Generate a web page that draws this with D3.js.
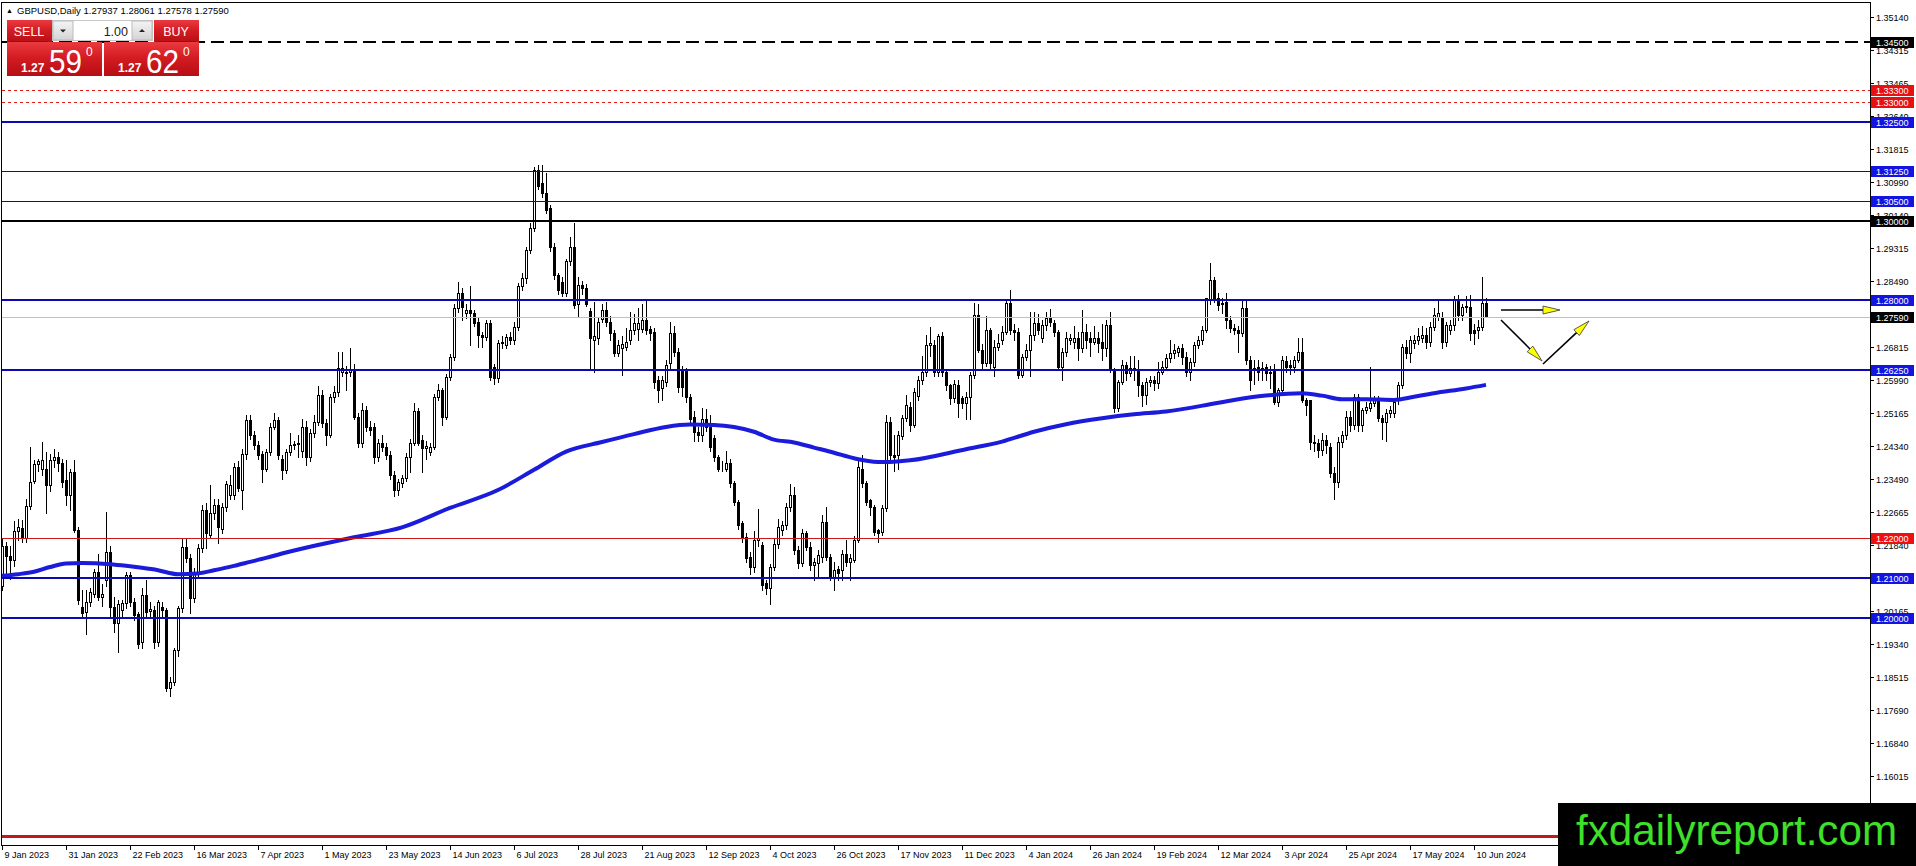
<!DOCTYPE html>
<html><head><meta charset="utf-8">
<script src="https://cdn.jsdelivr.net/npm/d3@7"></script>
<style>
html,body{margin:0;padding:0;background:#fff;overflow:hidden}
svg{display:block;font-family:"Liberation Sans",Arial,sans-serif}
</style></head><body>
<svg id="c" width="1916" height="866"></svg>
<script>
// ---------------- DATA ----------------
const symbol = "GBPUSD,Daily";
const lastQuote = ["1.27937","1.28061","1.27578","1.27590"]; // O H L C of last bar
const bid = {big:"1.27", pips:"59", frac:"0"};
const ask = {big:"1.27", pips:"62", frac:"0"};
const lotSize = "1.00";

// daily bars [open, high, low, close], one per trading day from 9 Jan 2023
const bars = [
[1.2080,1.2200,1.2070,1.2180],[1.2180,1.2190,1.2100,1.2155],[1.2155,1.2180,1.2098,1.2145],[1.2145,1.2245,1.2130,1.2218],[1.2218,1.2248,1.2195,1.2230],
[1.2227,1.2246,1.2190,1.2200],[1.2200,1.2300,1.2190,1.2283],[1.2283,1.2431,1.2275,1.2343],[1.2345,1.2397,1.2340,1.2388],[1.2388,1.2400,1.2370,1.2395],
[1.2375,1.2444,1.2360,1.2398],[1.2376,1.2418,1.2263,1.2334],[1.2334,1.2412,1.2320,1.2397],[1.2398,1.2425,1.2380,1.2405],[1.2406,1.2418,1.2370,1.2390],
[1.2390,1.2400,1.2330,1.2343],[1.2347,1.2398,1.2284,1.2309],[1.2309,1.2376,1.2271,1.2368],[1.2368,1.2397,1.2216,1.2221],[1.2221,1.2230,1.2035,1.2045],
[1.2028,1.2070,1.2003,1.2011],[1.2015,1.2070,1.1960,1.2040],[1.2040,1.2075,1.2030,1.2065],[1.2061,1.2122,1.2053,1.2116],[1.2116,1.2162,1.2045,1.2053],
[1.2053,1.2085,1.2030,1.2060],[1.2095,1.2267,1.2080,1.2166],[1.2166,1.2180,1.2003,1.2028],[1.2028,1.2053,1.1965,1.1986],[1.1986,1.2045,1.1914,1.2036],
[1.2020,1.2045,1.2005,1.2037],[1.2037,1.2115,1.2025,1.2107],[1.2107,1.2115,1.2030,1.2040],[1.2040,1.2050,1.1995,1.2007],[1.2010,1.2015,1.1925,1.1935],
[1.1940,1.2075,1.1925,1.2057],[1.2057,1.2095,1.2005,1.2015],[1.2018,1.2040,1.2000,1.2022],[1.2020,1.2030,1.1925,1.1940],[1.1940,1.2045,1.1930,1.2040],
[1.2028,1.2040,1.2005,1.2020],[1.2020,1.2025,1.1815,1.1822],[1.1822,1.1850,1.1802,1.1838],[1.1838,1.1925,1.1830,1.1918],[1.1918,1.2030,1.1905,1.2024],
[1.2024,1.2200,1.2015,1.2179],[1.2179,1.2200,1.2140,1.2150],[1.2150,1.2160,1.2011,1.2049],[1.2049,1.2125,1.2040,1.2112],[1.2112,1.2185,1.2100,1.2175],
[1.2175,1.2284,1.2165,1.2271],[1.2271,1.2290,1.2175,1.2213],[1.2208,1.2335,1.2200,1.2263],[1.2263,1.2300,1.2250,1.2284],[1.2284,1.2300,1.2188,1.2229],
[1.2225,1.2290,1.2215,1.2280],[1.2280,1.2345,1.2270,1.2338],[1.2310,1.2360,1.2300,1.2334],[1.2310,1.2390,1.2300,1.2381],[1.2381,1.2395,1.2320,1.2326],
[1.2322,1.2425,1.2275,1.2414],[1.2414,1.2510,1.2400,1.2498],[1.2498,1.2510,1.2450,1.2460],[1.2460,1.2470,1.2425,1.2435],[1.2435,1.2445,1.2400,1.2410],
[1.2414,1.2420,1.2343,1.2376],[1.2376,1.2425,1.2370,1.2418],[1.2418,1.2490,1.2410,1.2481],[1.2481,1.2515,1.2475,1.2498],[1.2498,1.2505,1.2400,1.2410],
[1.2400,1.2410,1.2351,1.2372],[1.2372,1.2425,1.2365,1.2418],[1.2418,1.2465,1.2410,1.2435],[1.2435,1.2445,1.2425,1.2437],[1.2437,1.2460,1.2405,1.2440],
[1.2420,1.2500,1.2405,1.2481],[1.2481,1.2495,1.2385,1.2406],[1.2406,1.2475,1.2395,1.2465],[1.2465,1.2511,1.2455,1.2494],[1.2494,1.2583,1.2485,1.2561],
[1.2561,1.2575,1.2480,1.2490],[1.2490,1.2500,1.2436,1.2461],[1.2461,1.2565,1.2455,1.2557],[1.2557,1.2585,1.2545,1.2570],[1.2570,1.2671,1.2560,1.2629],
[1.2620,1.2671,1.2610,1.2629],[1.2620,1.2635,1.2574,1.2616],[1.2620,1.2679,1.2610,1.2625],[1.2625,1.2640,1.2500,1.2507],[1.2507,1.2515,1.2430,1.2440],
[1.2440,1.2541,1.2430,1.2524],[1.2524,1.2535,1.2470,1.2482],[1.2482,1.2495,1.2460,1.2473],[1.2482,1.2490,1.2389,1.2406],[1.2406,1.2450,1.2395,1.2440],
[1.2440,1.2460,1.2420,1.2431],[1.2431,1.2440,1.2400,1.2410],[1.2410,1.2420,1.2350,1.2360],[1.2360,1.2370,1.2308,1.2322],[1.2322,1.2350,1.2310,1.2343],
[1.2339,1.2360,1.2330,1.2352],[1.2352,1.2415,1.2345,1.2406],[1.2406,1.2450,1.2368,1.2440],[1.2440,1.2541,1.2435,1.2520],[1.2520,1.2530,1.2435,1.2440],
[1.2448,1.2460,1.2368,1.2427],[1.2427,1.2445,1.2400,1.2433],[1.2419,1.2440,1.2410,1.2431],[1.2431,1.2565,1.2425,1.2557],[1.2557,1.2590,1.2550,1.2574],
[1.2574,1.2580,1.2486,1.2507],[1.2507,1.2615,1.2500,1.2608],[1.2608,1.2665,1.2600,1.2658],[1.2658,1.2790,1.2650,1.2780],[1.2780,1.2847,1.2770,1.2818],
[1.2818,1.2830,1.2750,1.2784],[1.2767,1.2790,1.2755,1.2775],[1.2775,1.2835,1.2688,1.2767],[1.2767,1.2775,1.2735,1.2742],[1.2746,1.2755,1.2683,1.2712],
[1.2712,1.2720,1.2683,1.2708],[1.2708,1.2750,1.2700,1.2742],[1.2742,1.2750,1.2600,1.2608],[1.2633,1.2640,1.2590,1.2604],[1.2604,1.2700,1.2595,1.2692],
[1.2692,1.2710,1.2680,1.2696],[1.2688,1.2715,1.2680,1.2708],[1.2708,1.2720,1.2690,1.2700],[1.2700,1.2745,1.2690,1.2734],[1.2734,1.2845,1.2725,1.2835],
[1.2835,1.2870,1.2825,1.2856],[1.2856,1.2935,1.2845,1.2927],[1.2927,1.2995,1.2920,1.2982],[1.2982,1.3135,1.2975,1.3129],[1.3129,1.3142,1.3080,1.3087],
[1.3095,1.3140,1.3060,1.3070],[1.3070,1.3121,1.3020,1.3028],[1.3032,1.3040,1.2925,1.2935],[1.2935,1.2945,1.2855,1.2864],[1.2864,1.2870,1.2815,1.2826],
[1.2847,1.2860,1.2810,1.2818],[1.2818,1.2905,1.2810,1.2898],[1.2898,1.2960,1.2890,1.2935],[1.2935,1.2994,1.2780,1.2788],[1.2792,1.2860,1.2760,1.2839],
[1.2839,1.2850,1.2815,1.2830],[1.2830,1.2840,1.2785,1.2792],[1.2772,1.2780,1.2624,1.2704],[1.2700,1.2797,1.2620,1.2710],[1.2704,1.2755,1.2690,1.2746],
[1.2752,1.2790,1.2745,1.2775],[1.2775,1.2795,1.2735,1.2746],[1.2746,1.2760,1.2700,1.2717],[1.2717,1.2725,1.2660,1.2668],[1.2668,1.2700,1.2660,1.2687],
[1.2679,1.2710,1.2612,1.2691],[1.2683,1.2730,1.2675,1.2696],[1.2700,1.2770,1.2690,1.2725],[1.2725,1.2765,1.2715,1.2742],[1.2729,1.2780,1.2700,1.2742],
[1.2729,1.2790,1.2720,1.2750],[1.2750,1.2801,1.2715,1.2725],[1.2729,1.2735,1.2700,1.2717],[1.2720,1.2730,1.2580,1.2595],[1.2599,1.2610,1.2545,1.2574],
[1.2578,1.2610,1.2550,1.2599],[1.2595,1.2650,1.2585,1.2637],[1.2641,1.2745,1.2630,1.2717],[1.2717,1.2735,1.2660,1.2670],[1.2670,1.2680,1.2570,1.2582],
[1.2624,1.2635,1.2560,1.2582],[1.2624,1.2630,1.2545,1.2557],[1.2557,1.2565,1.2490,1.2502],[1.2507,1.2520,1.2445,1.2469],[1.2469,1.2480,1.2445,1.2460],
[1.2460,1.2530,1.2445,1.2502],[1.2502,1.2525,1.2470,1.2481],[1.2481,1.2510,1.2420,1.2431],[1.2452,1.2460,1.2395,1.2406],[1.2406,1.2410,1.2370,1.2376],
[1.2381,1.2395,1.2370,1.2379],[1.2376,1.2420,1.2370,1.2389],[1.2389,1.2400,1.2330,1.2339],[1.2339,1.2345,1.2285,1.2292],[1.2292,1.2298,1.2225,1.2234],
[1.2238,1.2245,1.2190,1.2204],[1.2204,1.2215,1.2140,1.2150],[1.2154,1.2165,1.2110,1.2129],[1.2129,1.2220,1.2115,1.2196],[1.2196,1.2275,1.2180,1.2200],
[1.2183,1.2190,1.2070,1.2082],[1.2087,1.2095,1.2060,1.2074],[1.2074,1.2135,1.2036,1.2129],[1.2129,1.2200,1.2120,1.2187],[1.2187,1.2250,1.2175,1.2229],
[1.2221,1.2245,1.2210,1.2234],[1.2234,1.2290,1.2225,1.2280],[1.2280,1.2337,1.2270,1.2309],[1.2309,1.2330,1.2160,1.2171],[1.2171,1.2180,1.2125,1.2137],
[1.2137,1.2225,1.2130,1.2213],[1.2213,1.2220,1.2170,1.2179],[1.2179,1.2190,1.2120,1.2133],[1.2133,1.2150,1.2095,1.2140],[1.2137,1.2170,1.2100,1.2158],
[1.2154,1.2260,1.2140,1.2242],[1.2242,1.2280,1.2145,1.2154],[1.2154,1.2160,1.2095,1.2103],[1.2103,1.2140,1.2070,1.2120],[1.2122,1.2130,1.2095,1.2112],
[1.2120,1.2170,1.2095,1.2162],[1.2162,1.2195,1.2130,1.2141],[1.2141,1.2160,1.2095,1.2150],[1.2145,1.2205,1.2140,1.2196],[1.2196,1.2395,1.2190,1.2381],
[1.2376,1.2410,1.2330,1.2339],[1.2339,1.2345,1.2285,1.2292],[1.2296,1.2300,1.2260,1.2280],[1.2280,1.2285,1.2210,1.2217],[1.2221,1.2225,1.2190,1.2213],
[1.2217,1.2285,1.2210,1.2276],[1.2276,1.2510,1.2270,1.2494],[1.2494,1.2505,1.2395,1.2410],[1.2410,1.2460,1.2370,1.2406],[1.2410,1.2470,1.2375,1.2460],
[1.2457,1.2510,1.2450,1.2503],[1.2503,1.2562,1.2495,1.2536],[1.2532,1.2545,1.2470,1.2486],[1.2486,1.2580,1.2480,1.2570],[1.2560,1.2610,1.2550,1.2599],
[1.2599,1.2660,1.2590,1.2620],[1.2620,1.2713,1.2610,1.2688],[1.2688,1.2734,1.2660,1.2692],[1.2688,1.2700,1.2610,1.2620],[1.2620,1.2715,1.2610,1.2709],
[1.2709,1.2720,1.2610,1.2620],[1.2620,1.2625,1.2575,1.2587],[1.2587,1.2590,1.2540,1.2553],[1.2553,1.2600,1.2545,1.2590],[1.2587,1.2600,1.2505,1.2541],
[1.2553,1.2560,1.2530,1.2541],[1.2541,1.2570,1.2500,1.2557],[1.2557,1.2620,1.2500,1.2612],[1.2612,1.2793,1.2605,1.2763],[1.2763,1.2790,1.2670,1.2675],
[1.2675,1.2690,1.2630,1.2641],[1.2641,1.2760,1.2635,1.2725],[1.2725,1.2730,1.2630,1.2641],[1.2633,1.2700,1.2610,1.2683],[1.2683,1.2715,1.2675,1.2692],
[1.2700,1.2735,1.2690,1.2721],[1.2721,1.2800,1.2715,1.2793],[1.2793,1.2827,1.2715,1.2725],[1.2725,1.2740,1.2700,1.2721],[1.2721,1.2730,1.2605,1.2612],
[1.2612,1.2665,1.2608,1.2658],[1.2658,1.2690,1.2650,1.2675],[1.2675,1.2770,1.2610,1.2713],[1.2713,1.2770,1.2700,1.2742],[1.2742,1.2765,1.2715,1.2725],
[1.2704,1.2750,1.2695,1.2738],[1.2738,1.2770,1.2725,1.2755],[1.2755,1.2778,1.2735,1.2746],[1.2742,1.2750,1.2710,1.2721],[1.2721,1.2725,1.2625,1.2633],
[1.2633,1.2680,1.2600,1.2671],[1.2671,1.2720,1.2660,1.2704],[1.2700,1.2715,1.2690,1.2704],[1.2696,1.2735,1.2680,1.2704],[1.2704,1.2720,1.2650,1.2679],
[1.2679,1.2775,1.2670,1.2721],[1.2721,1.2740,1.2680,1.2700],[1.2704,1.2720,1.2660,1.2696],[1.2696,1.2735,1.2690,1.2704],[1.2704,1.2720,1.2670,1.2692],
[1.2696,1.2740,1.2650,1.2679],[1.2679,1.2750,1.2660,1.2738],[1.2738,1.2770,1.2620,1.2625],[1.2625,1.2630,1.2518,1.2528],[1.2528,1.2600,1.2520,1.2595],
[1.2595,1.2650,1.2590,1.2637],[1.2637,1.2645,1.2600,1.2617],[1.2617,1.2660,1.2610,1.2629],[1.2629,1.2660,1.2600,1.2625],[1.2625,1.2650,1.2560,1.2587],
[1.2587,1.2595,1.2535,1.2562],[1.2562,1.2605,1.2540,1.2595],[1.2595,1.2610,1.2585,1.2599],[1.2599,1.2610,1.2575,1.2591],[1.2591,1.2645,1.2580,1.2620],
[1.2620,1.2648,1.2615,1.2633],[1.2633,1.2665,1.2625,1.2654],[1.2654,1.2700,1.2645,1.2667],[1.2667,1.2690,1.2655,1.2675],[1.2671,1.2685,1.2660,1.2679],
[1.2679,1.2690,1.2640,1.2658],[1.2658,1.2670,1.2610,1.2620],[1.2620,1.2655,1.2600,1.2645],[1.2645,1.2695,1.2635,1.2688],[1.2688,1.2710,1.2680,1.2700],
[1.2700,1.2735,1.2690,1.2725],[1.2725,1.2807,1.2720,1.2805],[1.2801,1.2893,1.2790,1.2851],[1.2851,1.2860,1.2795,1.2805],[1.2805,1.2818,1.2775,1.2788],
[1.2790,1.2805,1.2767,1.2793],[1.2797,1.2818,1.2730,1.2751],[1.2751,1.2760,1.2720,1.2730],[1.2730,1.2740,1.2715,1.2725],[1.2725,1.2735,1.2670,1.2717],
[1.2717,1.2800,1.2710,1.2780],[1.2780,1.2800,1.2640,1.2650],[1.2650,1.2660,1.2575,1.2599],[1.2625,1.2650,1.2590,1.2629],[1.2633,1.2650,1.2600,1.2620],
[1.2625,1.2645,1.2600,1.2629],[1.2633,1.2640,1.2600,1.2616],[1.2620,1.2635,1.2580,1.2616],[1.2625,1.2640,1.2540,1.2545],[1.2545,1.2580,1.2535,1.2574],
[1.2574,1.2660,1.2570,1.2650],[1.2646,1.2660,1.2620,1.2633],[1.2637,1.2650,1.2615,1.2633],[1.2633,1.2660,1.2620,1.2650],[1.2650,1.2705,1.2645,1.2671],
[1.2671,1.2705,1.2545,1.2549],[1.2549,1.2555,1.2510,1.2536],[1.2549,1.2550,1.2425,1.2444],[1.2444,1.2460,1.2420,1.2440],[1.2440,1.2450,1.2405,1.2423],
[1.2423,1.2465,1.2410,1.2448],[1.2448,1.2460,1.2415,1.2436],[1.2431,1.2440,1.2355,1.2364],[1.2364,1.2380,1.2300,1.2343],[1.2343,1.2455,1.2330,1.2444],
[1.2444,1.2470,1.2430,1.2461],[1.2461,1.2520,1.2450,1.2507],[1.2507,1.2520,1.2470,1.2486],[1.2486,1.2565,1.2475,1.2557],[1.2557,1.2565,1.2470,1.2486],
[1.2486,1.2530,1.2470,1.2524],[1.2524,1.2545,1.2515,1.2532],[1.2528,1.2633,1.2520,1.2541],[1.2541,1.2560,1.2535,1.2553],[1.2553,1.2560,1.2495,1.2503],
[1.2503,1.2510,1.2450,1.2494],[1.2494,1.2525,1.2445,1.2515],[1.2515,1.2535,1.2505,1.2524],[1.2515,1.2555,1.2505,1.2545],[1.2549,1.2595,1.2540,1.2587],
[1.2587,1.2690,1.2580,1.2683],[1.2683,1.2700,1.2655,1.2667],[1.2667,1.2710,1.2645,1.2700],[1.2692,1.2712,1.2680,1.2700],[1.2700,1.2730,1.2690,1.2709],
[1.2704,1.2735,1.2695,1.2713],[1.2713,1.2730,1.2680,1.2696],[1.2696,1.2745,1.2685,1.2734],[1.2734,1.2780,1.2725,1.2763],[1.2759,1.2801,1.2750,1.2767],
[1.2759,1.2770,1.2680,1.2696],[1.2696,1.2745,1.2685,1.2738],[1.2725,1.2750,1.2715,1.2738],[1.2738,1.2810,1.2725,1.2801],[1.2801,1.2814,1.2750,1.2763],
[1.2763,1.2790,1.2750,1.2784],[1.2784,1.2810,1.2770,1.2786],[1.2784,1.2814,1.2700,1.2717],[1.2725,1.2740,1.2690,1.2717],[1.2725,1.2750,1.2705,1.2734],
[1.2734,1.2860,1.2725,1.2793],[1.27937,1.28061,1.27578,1.27590]
];

// 200-day moving average, read at selected bars
const maBar   = [0,4,8,12,16,20,27,31,35,39,44,49,53,58,62,66,70,77,88,100,112,124,133,141,150,158,166,172,178,183,188,193,198,203,208,213,219,222,227,241,250,258,266,275,283,291,302,308,316,325,330,335,341,348,353,358,366,371];
const maValue = [1.2106,1.2110,1.2116,1.2128,1.2137,1.2138,1.2135,1.2131,1.2126,1.2120,1.2110,1.2112,1.2120,1.2131,1.2141,1.2151,1.2162,1.2179,1.2203,1.2228,1.2277,1.2322,1.2373,1.2419,1.2443,1.2463,1.2481,1.2487,1.2486,1.2481,1.2469,1.2449,1.2442,1.2429,1.2416,1.2402,1.2393,1.2393,1.2397,1.2425,1.2444,1.2469,1.2488,1.2503,1.2513,1.2520,1.2538,1.2549,1.2560,1.2566,1.2560,1.2551,1.2551,1.2549,1.2557,1.2566,1.2578,1.2587];

// horizontal levels
const levelPrice = [1.3450,1.3330,1.3300,1.3250,1.3125,1.3050,1.3000,1.2800,1.2759,1.2625,1.2200,1.2100,1.2000,1.1450];
const levelKind  = ["blackDash","redDot","redDot","blueThick","blueThin","blueThin","blackThick","blueThick","bid","blueThick","redThin","blueThick","blueThick","redHeavy"];

// price axis tick labels
const yTicks = ["1.35140","1.34315","1.33465","1.32640","1.31815","1.30990","1.30140","1.29315","1.28490","1.27665","1.26815","1.25990","1.25165","1.24340","1.23490","1.22665","1.21840","1.21015","1.20165","1.19340","1.18515","1.17690","1.16840","1.16015"];

// time axis labels, one every 16 bars
const dateTicks = ["9 Jan 2023","31 Jan 2023","22 Feb 2023","16 Mar 2023","7 Apr 2023","1 May 2023","23 May 2023","14 Jun 2023","6 Jul 2023","28 Jul 2023","21 Aug 2023","12 Sep 2023","4 Oct 2023","26 Oct 2023","17 Nov 2023","11 Dec 2023","4 Jan 2024","26 Jan 2024","19 Feb 2024","12 Mar 2024","3 Apr 2024","25 Apr 2024","17 May 2024","10 Jun 2024"];
const dateStep = 16;

// scenario arrows (bar index, price)
const arrowPaths = [
  [[374.75,1.27757],[389.5,1.27757]],
  [[374.75,1.27505],[385.0,1.26473]],
  [[385.25,1.26396],[396.75,1.27480]]
];

// ---------------- DRAW ----------------
const svg = d3.select("#c");
const L = 2, R = 1870, T = 3, B = 845;
const x = d3.scaleLinear().domain([0, 368]).range([2, 1474]);
const y = d3.scaleLinear().domain([1.16015, 1.35140]).range([776, 17]);

const styles = {
  blackDash:  {c:"#000000", w:1.2, d:"13,6", box:"#000000", label:true},
  redDot:     {c:"#e01818", w:1,   d:"3,3",  box:"#e81010", label:true},
  blueThick:  {c:"#0a0ab4", w:2,   d:null,   box:"#1414e0", label:true},
  blueThin:   {c:"#0a0ab4", w:1,   d:null,   box:"#1414e0", label:true},
  blackThick: {c:"#000000", w:2,   d:null,   box:"#000000", label:true},
  bid:        {c:"#c0c0c0", w:1,   d:null,   box:"#000000", label:true},
  redThin:    {c:"#d01818", w:1,   d:null,   box:"#ee1010", label:true},
  redHeavy:   {c:"#c0181e", w:3,   d:null,   box:"#c0181e", label:false}
};

const defs = svg.append("defs");
defs.append("clipPath").attr("id","plot").append("rect")
  .attr("x", L).attr("y", T).attr("width", R - L).attr("height", B - T);
const grad = defs.append("linearGradient").attr("id","red").attr("x1",0).attr("y1",0).attr("x2",0).attr("y2",1);
grad.append("stop").attr("offset","0%").attr("stop-color","#ea3a40");
grad.append("stop").attr("offset","45%").attr("stop-color","#d41c22");
grad.append("stop").attr("offset","100%").attr("stop-color","#b50e14");
const grad2 = defs.append("linearGradient").attr("id","gray").attr("x1",0).attr("y1",0).attr("x2",0).attr("y2",1);
grad2.append("stop").attr("offset","0%").attr("stop-color","#f4f4f4");
grad2.append("stop").attr("offset","100%").attr("stop-color","#d4d4d4");

svg.append("rect").attr("width",1916).attr("height",866).attr("fill","#fff");

const plot = svg.append("g").attr("clip-path","url(#plot)");

// candles
const cg = plot.append("g").attr("shape-rendering","crispEdges");
bars.forEach((b, i) => {
  const [o, h, l, c] = b;
  const xc = Math.round(x(i));
  cg.append("line")
    .attr("x1", xc + 0.5).attr("x2", xc + 0.5)
    .attr("y1", Math.round(y(h))).attr("y2", Math.round(y(l)) + 1)
    .attr("stroke", "#000").attr("stroke-width", 1);
  const top = Math.round(y(Math.max(o, c)));
  const bot = Math.round(y(Math.min(o, c)));
  cg.append("rect")
    .attr("x", xc - 0.5).attr("width", 2)
    .attr("y", top + 0.5).attr("height", Math.max(bot - top, 0))
    .attr("fill", c >= o ? "#fff" : "#000")
    .attr("stroke", "#000").attr("stroke-width", 1);
});

// moving average
const maLine = d3.line().x((d, k) => x(maBar[k])).y(d => y(d)).curve(d3.curveMonotoneX);
plot.append("path").attr("d", maLine(maValue))
  .attr("fill","none").attr("stroke","#1b1bdc").attr("stroke-width",4).attr("stroke-linejoin","round");

// level lines
levelPrice.forEach((p, k) => {
  const s = styles[levelKind[k]];
  const yy = s.w % 2 === 1 ? Math.round(y(p)) + 0.5 : Math.round(y(p));
  const ln = plot.append("line").attr("x1", L).attr("x2", R).attr("y1", yy).attr("y2", yy)
    .attr("stroke", s.c).attr("stroke-width", s.w).attr("shape-rendering","crispEdges");
  if (s.d) ln.attr("stroke-dasharray", s.d);
});

// arrows
arrowPaths.forEach(seg => {
  const [a, b] = seg;
  const x1 = x(a[0]), y1 = y(a[1]), x2 = x(b[0]), y2 = y(b[1]);
  const ang = Math.atan2(y2 - y1, x2 - x1);
  const hl = 17, hw = 4;
  const bx = x2 - hl * Math.cos(ang), by = y2 - hl * Math.sin(ang);
  plot.append("line").attr("x1", x1).attr("y1", y1).attr("x2", bx).attr("y2", by)
    .attr("stroke","#000").attr("stroke-width",1.6);
  const px = -Math.sin(ang) * hw, py = Math.cos(ang) * hw;
  plot.append("path")
    .attr("d", `M${x2},${y2}L${bx + px},${by + py}L${bx - px},${by - py}Z`)
    .attr("fill","#ffff00").attr("stroke","#333").attr("stroke-width",0.8);
});

// frame
svg.append("rect").attr("x", L - 0.5).attr("y", T - 0.5).attr("width", R - L + 1).attr("height", B - T + 1)
  .attr("fill","none").attr("stroke","#000").attr("stroke-width",1).attr("shape-rendering","crispEdges");

// price axis
const ya = svg.append("g").attr("font-size", 9).attr("fill", "#000");
yTicks.forEach(t => {
  const yy = Math.round(y(+t)) + 0.5;
  ya.append("line").attr("x1", R).attr("x2", R + 4).attr("y1", yy).attr("y2", yy)
    .attr("stroke","#000").attr("shape-rendering","crispEdges");
  ya.append("text").attr("x", R + 6).attr("y", yy + 3.5).text(t);
});
levelPrice.forEach((p, k) => {
  const s = styles[levelKind[k]];
  if (!s.label) return;
  const yy = Math.round(y(p));
  svg.append("rect").attr("x", R + 1).attr("y", yy - 5).attr("width", 43).attr("height", 11)
    .attr("fill", s.box);
  svg.append("text").attr("x", R + 6).attr("y", yy + 4).attr("font-size", 9)
    .attr("fill", "#fff").text(p.toFixed(5));
});

// time axis
const xa = svg.append("g").attr("font-size", 9).attr("fill", "#000");
dateTicks.forEach((t, k) => {
  const xx = Math.round(x(k * dateStep)) + 0.5;
  xa.append("line").attr("x1", xx).attr("x2", xx).attr("y1", B).attr("y2", B + 5)
    .attr("stroke","#000").attr("shape-rendering","crispEdges");
  xa.append("text").attr("x", xx + 2).attr("y", B + 13).text(t);
});

// header
svg.append("text").attr("x", 6).attr("y", 13).attr("font-size", 7).text("\u25B2");
svg.append("text").attr("x", 17).attr("y", 14).attr("font-size", 9.5)
  .text(symbol + "  " + lastQuote.join(" "));

// one-click trading panel
const tp = svg.append("g");
tp.append("rect").attr("x",7).attr("y",20).attr("width",45).attr("height",23).attr("fill","url(#red)");
tp.append("rect").attr("x",154).attr("y",20).attr("width",45).attr("height",23).attr("fill","url(#red)");
tp.append("rect").attr("x",7).attr("y",42).attr("width",95).attr("height",34).attr("fill","url(#red)");
tp.append("rect").attr("x",104).attr("y",42).attr("width",95).attr("height",34).attr("fill","url(#red)");
tp.append("line").attr("x1",10).attr("x2",48).attr("y1",41.5).attr("y2",41.5).attr("stroke","#9a0c10");
tp.append("line").attr("x1",157).attr("x2",196).attr("y1",41.5).attr("y2",41.5).attr("stroke","#9a0c10");
tp.append("rect").attr("x",52.5).attr("y",20.5).attr("width",100).attr("height",20).attr("fill","#fff").attr("stroke","#c8c8c8");
tp.append("rect").attr("x",53).attr("y",21).attr("width",20).attr("height",19).attr("fill","url(#gray)").attr("stroke","#bbb");
tp.append("rect").attr("x",132).attr("y",21).attr("width",20).attr("height",19).attr("fill","url(#gray)").attr("stroke","#bbb");
tp.append("path").attr("d","M60,29.5L66,29.5L63,32.5Z").attr("fill","#222");
tp.append("path").attr("d","M139,32L145,32L142,29Z").attr("fill","#222");
tp.append("text").attr("x",128).attr("y",35.5).attr("text-anchor","end").attr("font-size",12.5).attr("fill","#222").text(lotSize);
tp.append("text").attr("x",29).attr("y",36).attr("text-anchor","middle").attr("font-size",12.5).attr("fill","#fff").text("SELL");
tp.append("text").attr("x",176).attr("y",36).attr("text-anchor","middle").attr("font-size",12.5).attr("fill","#fff").text("BUY");
[[bid,7],[ask,104]].forEach(([q, ox]) => {
  tp.append("text").attr("x", ox + 14).attr("y", 72).attr("font-size", 12).attr("font-weight","bold").attr("fill","#fff").text(q.big);
  tp.append("text").attr("x", ox + 42).attr("y", 73).attr("font-size", 34).attr("fill","#fff")
    .attr("textLength", 33).attr("lengthAdjust","spacingAndGlyphs").text(q.pips);
  tp.append("text").attr("x", ox + 79).attr("y", 56).attr("font-size", 12).attr("fill","#fff").text(q.frac);
});

// watermark
svg.append("rect").attr("x",1558).attr("y",803).attr("width",358).attr("height",63).attr("fill","#000");
svg.append("text").attr("x",1576).attr("y",845).attr("font-size",42).attr("fill","#3ee02a")
  .attr("textLength",321).attr("lengthAdjust","spacingAndGlyphs").text("fxdailyreport.com");
</script>
</body></html>
